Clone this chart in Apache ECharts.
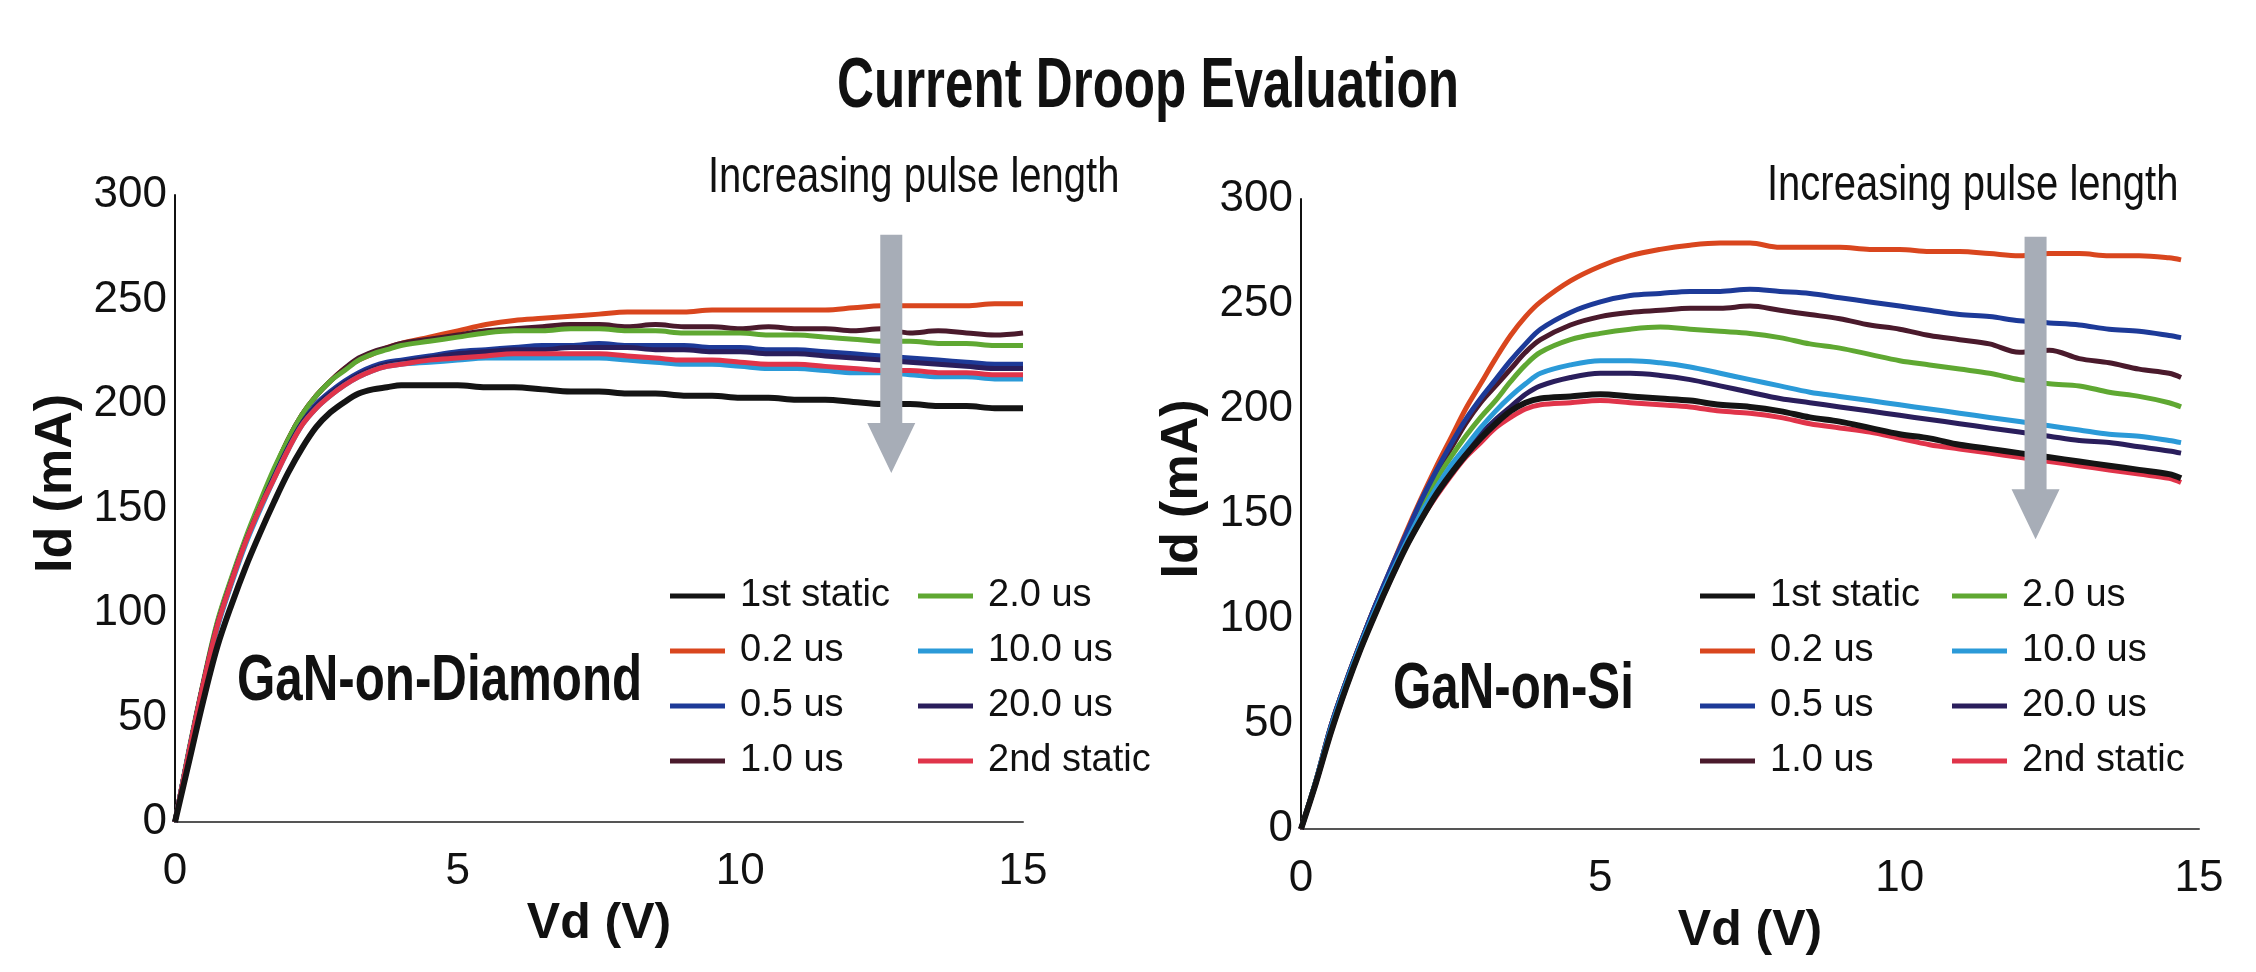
<!DOCTYPE html>
<html>
<head>
<meta charset="utf-8">
<script src="https://cdn.jsdelivr.net/npm/echarts@6/dist/echarts.min.js"></script>
<style>
html,body{margin:0;padding:0;background:#fff;}
#chart{width:2256px;height:972px;}
</style>
</head>
<body>
<div id="chart"></div>
<script>
// ---------- DATA ----------
const seriesNames = ['1st static', '0.2 us', '0.5 us', '1.0 us', '2.0 us', '10.0 us', '20.0 us', '2nd static'];
const xTicks = [0, 5, 10, 15];
const yTicks = [0, 50, 100, 150, 200, 250, 300];

// GaN-on-Diamond (left)
const vdLeft = [0,0.25,0.5,0.75,1,1.25,1.5,1.75,2,2.25,2.5,2.75,3,3.25,3.5,3.75,4,4.5,5,5.5,6,6.5,7,7.5,8,8.5,9,9.5,10,10.5,11,11.5,12,12.5,13,13.5,14,14.5,15];
const diaStatic1 = [0,29,58,84,104,122,138,153,167,179,189,196,201,205,207,208,209,209,209,208,208,207,206,206,205,205,204,204,203,203,202,202,201,200,200,199,199,198,198];
const dia02 = [0,34,66,95,116,135,152,168,183,195,204,211,217,221,224,227,229,232,235,238,240,241,242,243,244,244,244,245,245,245,245,245,246,247,247,247,247,248,248];
const dia05 = [0,34,66,94,115,134,150,165,179,191,200,206,211,215,218,220,221,223,225,226,227,228,228,229,228,228,228,227,227,226,226,225,224,223,222,221,220,219,219];
const dia10 = [0,34,66,95,116,135,152,168,183,195,204,211,217,222,225,227,229,231,233,235,236,237,238,238,237,238,237,237,236,237,236,236,235,236,234,235,234,233,234];
const dia20 = [0,35,67,96,117,136,153,169,183,195,204,211,216,221,224,226,228,230,232,234,235,235,236,236,235,235,234,234,234,233,233,232,231,230,230,229,229,228,228];
const dia100 = [0,34,65,93,114,133,149,164,178,190,198,204,209,213,216,218,219,220,221,222,222,222,222,222,221,220,219,219,218,217,217,216,215,215,214,213,213,212,212];
const dia200 = [0,34,66,94,115,134,150,165,179,191,199,205,210,214,217,219,220,222,224,225,226,226,227,227,227,226,226,225,225,224,224,223,222,221,220,219,218,217,217];
const diaStatic2 = [0,34,66,94,115,134,150,164,178,190,198,204,209,213,216,218,219,221,222,223,224,224,224,224,223,222,221,221,220,219,219,218,217,216,216,215,215,214,214];

// GaN-on-Si (right)
const vdRight = [0,0.25,0.5,0.75,1,1.25,1.5,1.75,2,2.25,2.5,2.75,3,3.25,3.5,3.75,4,4.5,5,5.5,6,6.5,7,7.5,8,8.5,9,9.5,10,10.5,11,11.5,12,12.5,13,13.5,14,14.5,14.7];
const siStatic1 = [0,22,46,67,86,103,119,134,147,159,169,178,186,193,199,203,205,206,207,206,205,204,202,201,199,196,194,191,188,186,183,181,179,177,175,173,171,169,167];
const si02 = [0,23,49,70,89,107,124,141,157,172,186,200,212,224,235,244,251,261,268,273,276,278,279,279,277,277,277,276,276,275,275,274,273,274,274,273,273,272,271];
const si05 = [0,23,49,70,89,107,124,140,156,170,183,195,205,214,223,231,238,246,251,254,255,256,256,257,256,255,253,251,249,247,245,244,242,241,240,238,237,235,234];
const si10 = [0,23,49,70,89,107,123,139,155,169,181,193,203,211,219,227,233,240,244,246,247,248,248,249,247,245,243,240,238,235,233,231,227,228,224,222,219,217,215];
const si20 = [0,23,48,69,88,106,122,138,153,166,177,187,196,204,213,221,227,233,236,238,239,238,237,236,234,231,229,226,223,221,219,217,214,212,211,208,206,203,201];
const si100 = [0,23,48,69,88,105,121,136,150,162,173,182,191,199,206,212,217,221,223,223,222,220,217,214,211,208,206,204,202,200,198,196,194,192,190,188,187,185,184];
const si200 = [0,22,47,68,87,104,120,135,149,161,171,180,188,195,201,207,211,215,217,217,216,214,211,208,205,203,201,199,197,195,193,191,189,187,185,184,182,180,179];
const siStatic2 = [0,22,46,67,86,103,119,134,147,158,168,177,184,191,196,200,202,203,204,203,202,201,199,198,196,193,191,189,186,183,181,179,177,175,173,171,169,167,165];

// "Increasing pulse length" arrows: [Vd, Id top, Id tip]
const arrowLeft = [[12.67, 281, 167]];
const arrowRight = [[12.27, 282, 138]];

// ---------- STYLE ----------
const FONT = '"Liberation Sans","Roboto",sans-serif';
const colorOf = {
  '1st static': '#141414',
  '0.2 us': '#d9461e',
  '0.5 us': '#1d3a98',
  '1.0 us': '#4a1a2c',
  '2.0 us': '#5fa832',
  '10.0 us': '#2b9ad8',
  '20.0 us': '#2a1e5c',
  '2nd static': '#e0344a'
};
const leftSets = {'1st static': diaStatic1, '0.2 us': dia02, '0.5 us': dia05, '1.0 us': dia10, '2.0 us': dia20, '10.0 us': dia100, '20.0 us': dia200, '2nd static': diaStatic2};
const rightSets = {'1st static': siStatic1, '0.2 us': si02, '0.5 us': si05, '1.0 us': si10, '2.0 us': si20, '10.0 us': si100, '20.0 us': si200, '2nd static': siStatic2};
const drawOrder = ['0.2 us', '1.0 us', '2.0 us', '0.5 us', '20.0 us', '10.0 us', '2nd static', '1st static'];

function pairs(xs, ys) { return xs.map((x, i) => [x, ys[i]]); }

const series = [];
[[0, vdLeft, leftSets], [1, vdRight, rightSets]].forEach(([gi, xs, sets]) => {
  drawOrder.forEach(name => {
    series.push({
      type: 'line', name: name, xAxisIndex: gi, yAxisIndex: gi,
      data: pairs(xs, sets[name]),
      showSymbol: false, symbol: 'none', smooth: 0.35,
      lineStyle: { color: colorOf[name], width: name === '1st static' ? 6 : 5 },
      itemStyle: { color: colorOf[name] },
      animation: false, silent: true
    });
  });
});

function arrowRender(params, api) {
  const x = api.value(0), yTop = api.value(1), yTip = api.value(2);
  const top = api.coord([x, yTop]);
  const tip = api.coord([x, yTip]);
  const sw = 11, hw = 24, hl = 50;
  const cx = top[0];
  const hy = tip[1] - hl;
  return {
    type: 'polygon',
    shape: { points: [[cx - sw, top[1]], [cx + sw, top[1]], [cx + sw, hy], [cx + hw, hy], [cx, tip[1]], [cx - hw, hy], [cx - sw, hy]] },
    style: { fill: '#a7adb7' }
  };
}
series.push({ type: 'custom', xAxisIndex: 0, yAxisIndex: 0, data: arrowLeft, renderItem: arrowRender, z: 10, clip: false, silent: true, animation: false });
series.push({ type: 'custom', xAxisIndex: 1, yAxisIndex: 1, data: arrowRight, renderItem: arrowRender, z: 10, clip: false, silent: true, animation: false });

function xAxisCfg(gi) {
  return {
    type: 'value', gridIndex: gi, min: xTicks[0], max: xTicks[xTicks.length - 1], interval: xTicks[1] - xTicks[0],
    axisLine: { show: true, onZero: false, lineStyle: { color: '#555', width: 2 } },
    axisTick: { show: false }, splitLine: { show: false },
    axisLabel: { fontSize: 44, color: '#111', margin: 28, fontFamily: FONT },
    name: 'Vd (V)', nameLocation: 'middle', nameGap: 64,
    nameTextStyle: { fontSize: 50, fontWeight: 'bold', color: '#111', fontFamily: FONT }
  };
}
function yAxisCfg(gi) {
  return {
    type: 'value', gridIndex: gi, min: yTicks[0], max: yTicks[yTicks.length - 1], interval: yTicks[1] - yTicks[0],
    axisLine: { show: true, onZero: false, lineStyle: { color: '#111', width: 2 } },
    axisTick: { show: false }, splitLine: { show: false },
    axisLabel: { fontSize: 44, color: '#111', margin: 8, fontFamily: FONT },
    name: 'Id (mA)', nameLocation: 'middle', nameGap: 92,
    nameTextStyle: { fontSize: 52, fontWeight: 'bold', color: '#111', fontFamily: FONT, padding: [0, 0, 0, 50] }
  };
}

function legendCfg(left, names) {
  return {
    orient: 'vertical', left: left, top: 572, data: names, selectedMode: false,
    icon: 'rect', itemWidth: 55, itemHeight: 5, itemGap: 17,
    textStyle: { fontSize: 38, color: '#111', fontFamily: FONT, padding: [0, 0, 0, 10] }
  };
}

function label(text, x, y, size, weight, sx, align) {
  return { type: 'text', x: x, y: y, scaleX: sx, scaleY: 1,
    style: { text: text, font: weight + ' ' + size + 'px ' + FONT, fill: '#111', textAlign: align, textVerticalAlign: 'middle' } };
}

const chart = echarts.init(document.getElementById('chart'), null, { renderer: 'canvas' });
chart.setOption({
  backgroundColor: '#ffffff',
  animation: false,
  grid: [
    { left: 175, top: 195, width: 848, height: 627 },
    { left: 1301, top: 199, width: 898, height: 630 }
  ],
  xAxis: [xAxisCfg(0), xAxisCfg(1)],
  yAxis: [yAxisCfg(0), yAxisCfg(1)],
  legend: [
    legendCfg(665, seriesNames.slice(0, 4)),
    legendCfg(913, seriesNames.slice(4)),
    legendCfg(1695, seriesNames.slice(0, 4)),
    legendCfg(1947, seriesNames.slice(4))
  ],
  graphic: [
    label('Current Droop Evaluation', 1148, 88, 70, 'bold', 0.73, 'center'),
    label('Increasing pulse length', 708, 178, 50, 'normal', 0.80, 'left'),
    label('Increasing pulse length', 1767, 186, 50, 'normal', 0.80, 'left'),
    label('GaN-on-Diamond', 237, 682, 64, 'bold', 0.77, 'left'),
    label('GaN-on-Si', 1393, 690, 64, 'bold', 0.77, 'left')
  ],
  series: series
});
</script>
</body>
</html>
